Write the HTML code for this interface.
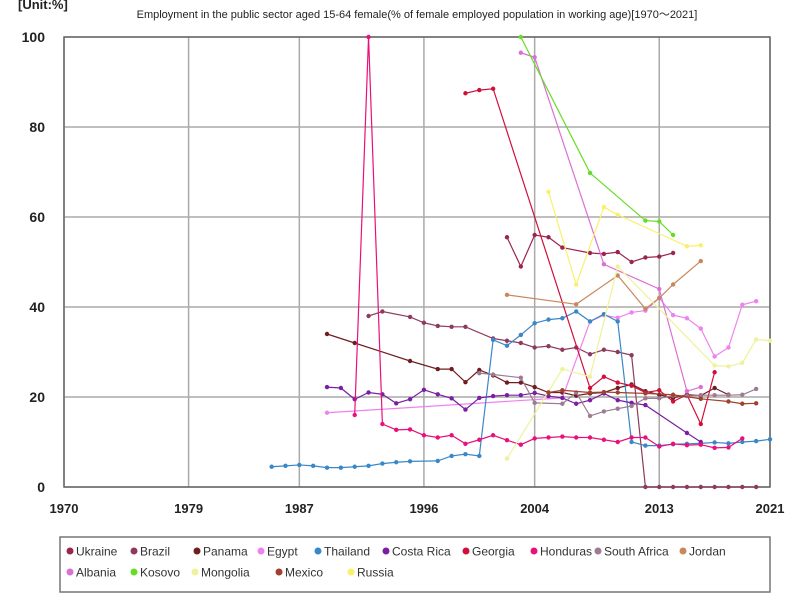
<!DOCTYPE html>
<html><head><meta charset="utf-8"><style>
body{margin:0;background:#fff;font-family:"Liberation Sans",sans-serif}
svg{display:block}
</style></head><body>
<svg id="chart" width="800" height="600" viewBox="0 0 800 600" xmlns="http://www.w3.org/2000/svg">
<text x="18" y="9" font-size="13" font-weight="bold" fill="#222">[Unit:%]</text>
<text x="417" y="18" font-size="11" text-anchor="middle" fill="#222">Employment in the public sector aged 15-64 female(% of female employed population in working age)[1970～2021]</text>
<g id="grid"></g>
<g id="axes"></g>
<g id="series"></g>
<g id="legend"></g>
</svg>
<script>
const xTicks=[1970,1979,1987,1996,2004,2013,2021];
const yTicks=[0,20,40,60,80,100];
const names=["Ukraine","Brazil","Panama","Egypt","Thailand","Costa Rica","Georgia","Honduras","South Africa","Jordan","Albania","Kosovo","Mongolia","Mexico","Russia"];
const colors=["#9B2450","#8E3A5E","#6E1E1E","#EE82EE","#3A87C8","#7B1FA2","#D0103A","#E8107A","#9E7A94","#C8885A","#DA70D6","#66DD22","#EEF29A","#A0402D","#FAF06A"];
const ukraineYears=[2002,2003,2004,2005,2006,2008,2009,2010,2011,2012,2013,2014];
const ukraineVals=[55.5,49,56,55.5,53.2,52,51.8,52.2,50,51,51.2,52];
const brazilYears=[1992,1993,1995,1996,1997,1998,1999,2001,2002,2003,2004,2005,2006,2007,2008,2009,2010,2011,2012,2013,2014,2015,2016,2017,2018,2019,2020];
const brazilVals=[38,39,37.8,36.5,35.8,35.6,35.6,33,32.5,32,31,31.3,30.5,31,29.5,30.5,30,29.3,0,0,0,0,0,0,0,0,0];
const panamaYears=[1989,1991,1995,1997,1998,1999,2000,2001,2002,2003,2004,2005,2006,2007,2008,2009,2010,2011,2012,2013,2014,2015,2016,2017,2018];
const panamaVals=[34,32,28,26.2,26.2,23.3,26,24.8,23.2,23.2,22.2,21,21,20.3,20.8,21,22,22.8,21.3,20.5,19.8,20.5,20.3,22,20.5];
const egyptYears=[1989,2006,2008,2009,2010,2011,2012,2013,2014,2015,2016,2017,2018,2019,2020];
const egyptVals=[16.5,19.8,36.8,38.2,37.6,38.8,39.2,42,38.2,37.5,35.2,29,31,40.5,41.3];
const thailandYears=[1985,1986,1987,1988,1989,1990,1991,1992,1993,1994,1995,1997,1998,1999,2000,2001,2002,2003,2004,2005,2006,2007,2008,2009,2010,2011,2012,2013,2014,2015,2016,2017,2018,2019,2020,2021];
const thailandVals=[4.5,4.7,4.9,4.7,4.3,4.3,4.5,4.7,5.2,5.5,5.7,5.8,6.9,7.3,6.9,32.7,31.4,33.8,36.4,37.2,37.5,39,36.8,38.4,36.8,10,9.2,9.2,9.5,9.6,9.7,9.9,9.7,10,10.2,10.6];
const costaYears=[1989,1990,1991,1992,1993,1994,1995,1996,1997,1998,1999,2000,2001,2002,2003,2004,2005,2006,2007,2008,2009,2010,2011,2012,2015,2016];
const costaVals=[22.2,22,19.5,21,20.6,18.6,19.5,21.6,20.6,19.7,17.2,19.8,20.2,20.4,20.4,20.9,20.2,19.8,18.5,19.3,20.8,19.3,18.7,18.2,12,10];
const georgiaYears=[1999,2000,2001,2008,2009,2010,2011,2012,2013,2014,2015,2016,2017];
const georgiaVals=[87.5,88.2,88.5,22,24.5,23.2,22.5,21,21.5,19,20.5,14,25.5];
const hondurasYears=[1991,1992,1993,1994,1995,1996,1997,1998,1999,2000,2001,2002,2003,2004,2005,2006,2007,2008,2009,2010,2011,2012,2013,2014,2015,2016,2017,2018,2019];
const hondurasVals=[16,100,14,12.7,12.8,11.5,11,11.5,9.6,10.5,11.5,10.4,9.4,10.8,11,11.2,11,11,10.5,10,11,11,9,9.6,9.3,9.4,8.7,8.8,10.8];
const saYears=[2000,2001,2003,2004,2006,2007,2008,2009,2010,2011,2012,2013,2014,2015,2016,2017,2018,2019,2020];
const saVals=[25.3,25,24.3,18.7,18.5,21,15.8,16.8,17.4,18,19.7,19.7,20.3,20.2,20.4,20.4,20.4,20.5,21.8];
const jordanYears=[2002,2007,2010,2012,2013,2014,2016];
const jordanVals=[42.7,40.6,47,39.6,42,45,50.2];
const albaniaYears=[2003,2004,2009,2013,2015,2016];
const albaniaVals=[96.5,95.5,49.5,44,21.3,22.2];
const kosovoYears=[2003,2008,2012,2013,2014];
const kosovoVals=[100,69.8,59.2,59,56];
const mongoliaYears=[2002,2006,2008,2010,2017,2018,2019,2020,2021];
const mongoliaVals=[6.3,26.2,24.5,49,27,26.8,27.6,32.8,32.5];
const mexicoYears=[2005,2006,2008,2009,2010,2012,2014,2016,2018,2019,2020];
const mexicoVals=[21,21.5,21,21.1,21,20.8,20.5,19.6,19,18.5,18.6];
const russiaYears=[2005,2007,2009,2010,2015,2016];
const russiaVals=[65.6,45,62.2,60.5,53.5,53.7];
const allYears=[ukraineYears,brazilYears,panamaYears,egyptYears,thailandYears,costaYears,georgiaYears,hondurasYears,saYears,jordanYears,albaniaYears,kosovoYears,mongoliaYears,mexicoYears,russiaYears];
const allVals=[ukraineVals,brazilVals,panamaVals,egyptVals,thailandVals,costaVals,georgiaVals,hondurasVals,saVals,jordanVals,albaniaVals,kosovoVals,mongoliaVals,mexicoVals,russiaVals];

const NS="http://www.w3.org/2000/svg";
const L=64,R=770,T=37,B=487;
const xs=y=>L+(y-1970)*(R-L)/51;
const ys=v=>B-v*(B-T)/100;
function mk(tag,parent,attrs){const e=document.createElementNS(NS,tag);for(const k in attrs)e.setAttribute(k,attrs[k]);parent.appendChild(e);return e;}
const grid=document.getElementById('grid'),axes=document.getElementById('axes'),ser=document.getElementById('series'),leg=document.getElementById('legend');
yTicks.forEach(v=>{
  const l=mk('line',grid,{x1:L,x2:R,y1:ys(v),y2:ys(v),stroke:'#aaa','stroke-width':1.5});
  
  
  const t=mk('text',axes,{x:45,y:ys(v)+5,'text-anchor':'end','font-size':14,'font-weight':'bold',fill:'#222'});
  t.textContent=v;
  
  
});
xTicks.forEach(y=>{
  const l=mk('line',grid,{x1:xs(y),x2:xs(y),y1:T,y2:B,stroke:'#aaa','stroke-width':1.5});
  
  
  const t=mk('text',axes,{x:xs(y),y:513,'text-anchor':'middle','font-size':13,'font-weight':'bold',fill:'#222'});
  t.textContent=y;
  
  
});
const frame=mk('rect',axes,{x:L,y:T,width:R-L,height:B-T,fill:'none',stroke:'#666','stroke-width':1.5});


allYears.forEach((yrs,i)=>{
  const vals=allVals[i];
  const g=mk('g',ser,{});
  
  
  const pts=yrs.map((y,j)=>xs(y)+','+ys(vals[j])).join(' ');
  const pl=mk('polyline',g,{points:pts,fill:'none',stroke:colors[i],'stroke-width':1.2});
  
  
  yrs.forEach((y,j)=>{
    const c=mk('circle',g,{cx:xs(y),cy:ys(vals[j]),r:2.2,fill:colors[i]});
    
    
  });
});
const box=mk('rect',leg,{x:60,y:537,width:710,height:55,fill:'#fff',stroke:'#777','stroke-width':1.5});


const lx=[70,134,197,261,318,386,466,534,598,683,70,134,195,279,351];
names.forEach((n,i)=>{
  const yy=i<10?551:572;
  const g=mk('g',leg,{});
  
  
  mk('circle',g,{cx:lx[i],cy:yy,r:3.5,fill:colors[i]});
  const t=mk('text',g,{x:lx[i]+6,y:yy+4.5,'font-size':12,fill:'#333'});
  t.textContent=n;
});
</script>
</body></html>
